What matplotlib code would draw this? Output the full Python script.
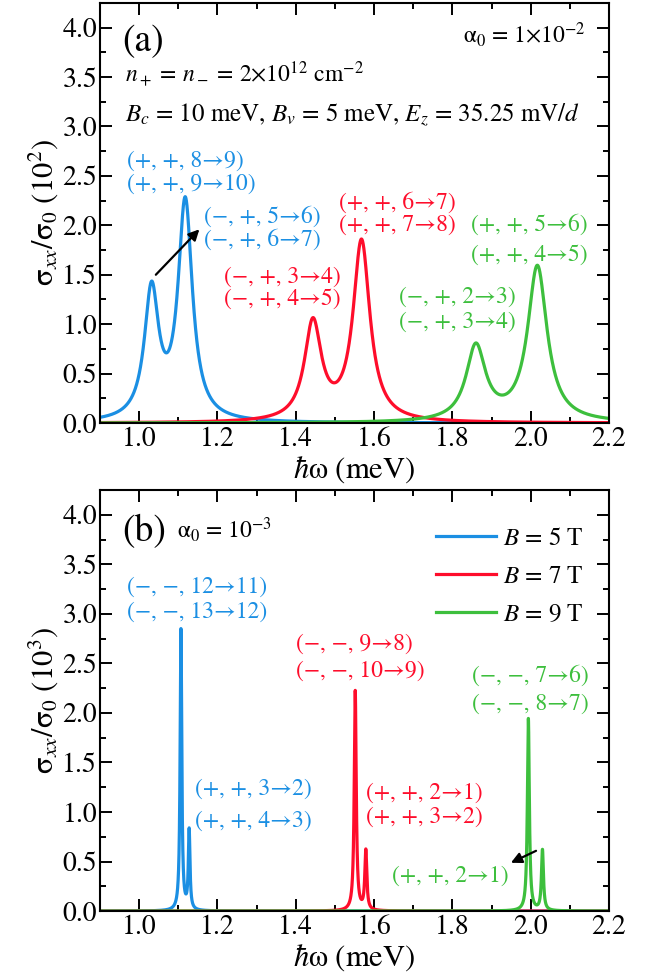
import numpy as np
import matplotlib
matplotlib.use('Agg')
import matplotlib.pyplot as plt

plt.rcParams['font.family'] = ['STIXGeneral', 'Liberation Serif', 'DejaVu Serif']
plt.rcParams['mathtext.fontset'] = 'stix'

# peak parameters (centre in meV, height, half width)
colors = ['#1b8fe3', '#fe0d2b', '#3dbf3d']
field_labels = ['$B$ = 5 T', '$B$ = 7 T', '$B$ = 9 T']

centers_a = [[1.032, 1.118], [1.444, 1.568], [1.860, 2.017]]
heights_a = [[1.30, 2.21], [0.99, 1.82], [0.755, 1.57]]
widths_a = [0.022, 0.026, 0.030]

centers_b = [[1.107, 1.128], [1.552, 1.579], [1.994, 2.030]]
heights_b = [[2.84, 0.80], [2.22, 0.60], [1.94, 0.61]]
widths_b = [0.0025, 0.003, 0.003]

xticks = [1.0, 1.2, 1.4, 1.6, 1.8, 2.0, 2.2]
yticks = [0.0, 0.5, 1.0, 1.5, 2.0, 2.5, 3.0, 3.5, 4.0]

energy = np.linspace(0.9, 2.2, 26001)


def spectrum(centers, heights, width):
    s = np.zeros_like(energy)
    for c, h in zip(centers, heights):
        s += h * width**2 / ((energy - c)**2 + width**2)
    return s


def style_axes(ax, ylab):
    ax.set_xlim(0.9, 2.2)
    ax.set_ylim(0, 4.25)
    ax.set_xticks(xticks)
    ax.set_yticks(yticks)
    ax.set_xticks(np.arange(0.9, 2.21, 0.1), minor=True)
    ax.set_yticks(np.arange(0, 4.26, 0.25), minor=True)
    ax.xaxis.set_major_formatter(matplotlib.ticker.FormatStrFormatter('%.1f'))
    ax.yaxis.set_major_formatter(matplotlib.ticker.FormatStrFormatter('%.1f'))
    ax.tick_params(which='both', direction='in', top=True, right=True, width=1.4, labelsize=20)
    ax.tick_params(which='major', length=8.5)
    ax.tick_params(axis='y', pad=2)
    ax.tick_params(axis='x', pad=3)
    ax.tick_params(which='minor', length=4.5)
    for sp in ax.spines.values():
        sp.set_linewidth(1.5)
    ax.set_xlabel(r'$\hbar$ω (meV)', fontsize=22, labelpad=1)
    ax.set_ylabel(ylab, fontsize=22, labelpad=2)


def label(ax, x, y, s, c):
    ax.text(x, y, s, color=c, fontsize=fs, va='center')


fs = 17
fig = plt.figure(figsize=(6.57, 9.77), dpi=100)

# ---- panel (a)
ax1 = fig.add_axes([0.152, 0.567, 0.775, 0.43])
for i in range(3):
    ax1.plot(energy, spectrum(centers_a[i], heights_a[i], widths_a[i]), color=colors[i], lw=2.3)
style_axes(ax1, 'σ$_{xx}$/σ$_0$ (10$^2$)')

ax1.text(0.043, 0.885, '(a)', transform=ax1.transAxes, fontsize=27)
ax1.text(0.955, 0.905, 'α$_0$ = 1×10$^{-2}$', transform=ax1.transAxes, fontsize=fs, ha='right')
ax1.text(0.05, 0.812, '$n_+$ = $n_-$ = 2×10$^{12}$ cm$^{-2}$', transform=ax1.transAxes, fontsize=fs)
ax1.text(0.05, 0.717, '$B_c$ = 10 meV, $B_v$ = 5 meV, $E_z$ = 35.25 mV/$d$', transform=ax1.transAxes, fontsize=18)

label(ax1, 0.97, 2.65, '(+, +, 8→9)', colors[0])
label(ax1, 0.97, 2.42, '(+, +, 9→10)', colors[0])
label(ax1, 1.165, 2.08, '(−, +, 5→6)', colors[0])
label(ax1, 1.165, 1.85, '(−, +, 6→7)', colors[0])
ax1.annotate('', xy=(1.159, 1.98), xytext=(1.038, 1.48),
             arrowprops=dict(arrowstyle='-|>', color='black', lw=1.6, mutation_scale=16))

label(ax1, 1.511, 2.23, '(+, +, 6→7)', colors[1])
label(ax1, 1.511, 2.0, '(+, +, 7→8)', colors[1])
label(ax1, 1.217, 1.48, '(−, +, 3→4)', colors[1])
label(ax1, 1.217, 1.25, '(−, +, 4→5)', colors[1])

label(ax1, 1.848, 2.0, '(+, +, 5→6)', colors[2])
label(ax1, 1.848, 1.70, '(+, +, 4→5)', colors[2])
label(ax1, 1.664, 1.27, '(−, +, 2→3)', colors[2])
label(ax1, 1.664, 1.02, '(−, +, 3→4)', colors[2])

# ---- panel (b)
ax2 = fig.add_axes([0.152, 0.0675, 0.775, 0.431])
for i in range(3):
    ax2.plot(energy, spectrum(centers_b[i], heights_b[i], widths_b[i]), color=colors[i], lw=2.3,
             label=field_labels[i])
style_axes(ax2, 'σ$_{xx}$/σ$_0$ (10$^3$)')

ax2.text(0.043, 0.878, '(b)', transform=ax2.transAxes, fontsize=27)
ax2.text(0.152, 0.885, 'α$_0$ = 10$^{-3}$', transform=ax2.transAxes, fontsize=fs)
ax2.legend(loc='upper right', bbox_to_anchor=(0.995, 0.965), frameon=False, fontsize=18,
           handlelength=2.4, handletextpad=0.3, labelspacing=0.55)

label(ax2, 0.97, 3.27, '(−, −, 12→11)', colors[0])
label(ax2, 0.97, 3.02, '(−, −, 13→12)', colors[0])
label(ax2, 1.143, 1.23, '(+, +, 3→2)', colors[0])
label(ax2, 1.143, 0.91, '(+, +, 4→3)', colors[0])

label(ax2, 1.4, 2.69, '(−, −, 9→8)', colors[1])
label(ax2, 1.4, 2.42, '(−, −, 10→9)', colors[1])
label(ax2, 1.58, 1.19, '(+, +, 2→1)', colors[1])
label(ax2, 1.58, 0.95, '(+, +, 3→2)', colors[1])

label(ax2, 1.85, 2.37, '(−, −, 7→6)', colors[2])
label(ax2, 1.85, 2.09, '(−, −, 8→7)', colors[2])
label(ax2, 1.646, 0.35, '(+, +, 2→1)', colors[2])
ax2.annotate('', xy=(1.943, 0.475), xytext=(2.02, 0.62),
             arrowprops=dict(arrowstyle='-|>', color='black', lw=1.6, mutation_scale=16))

fig.savefig('out.png', dpi=100)
